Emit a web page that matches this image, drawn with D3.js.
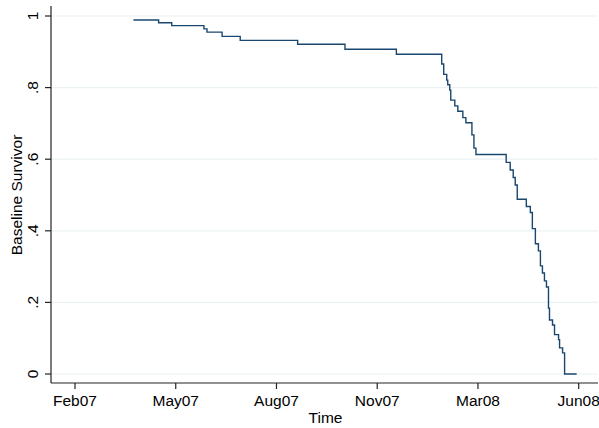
<!DOCTYPE html>
<html>
<head>
<meta charset="utf-8">
<script src="https://cdn.jsdelivr.net/npm/d3@7"></script>
<style>
  html,body{margin:0;padding:0;background:#fff;}
  svg{display:block;font-family:"Liberation Sans",Arial,sans-serif;}
</style>
</head>
<body>
<svg id="chart" width="599" height="428"></svg>
<script>
// step times (failure dates) and baseline survivor after each step
const dates=["2007-04-02","2007-04-27","2007-05-10","2007-06-11","2007-06-14","2007-06-29","2007-07-17","2007-09-12","2007-10-29","2007-12-19",
  "2008-02-02","2008-02-04","2008-02-07","2008-02-08","2008-02-10","2008-02-11","2008-02-15","2008-02-18","2008-02-23","2008-02-26",
  "2008-03-03","2008-03-05","2008-03-07","2008-04-06","2008-04-10","2008-04-13","2008-04-15","2008-04-17","2008-04-26","2008-04-30",
  "2008-05-02","2008-05-05","2008-05-08","2008-05-10","2008-05-12","2008-05-14","2008-05-16","2008-05-18","2008-05-19","2008-05-22",
  "2008-05-24","2008-05-28","2008-05-29","2008-06-01","2008-06-03","2008-06-15"];
const survival=[0.989,0.981,0.973,0.964,0.955,0.943,0.932,0.921,0.907,0.893,
  0.866,0.837,0.821,0.808,0.793,0.765,0.749,0.734,0.716,0.702,
  0.668,0.631,0.613,0.591,0.570,0.549,0.528,0.488,0.468,0.451,
  0.406,0.364,0.344,0.302,0.282,0.260,0.243,0.184,0.151,0.137,
  0.110,0.096,0.073,0.059,0,0];

const xTicks=["2007-02-03","2007-05-14","2007-08-22","2007-11-30","2008-03-09","2008-06-17"];
const yTicks=[0,0.2,0.4,0.6,0.8,1];
const yTickLabels=["0",".2",".4",".6",".8","1"];

const parse=d3.utcParse("%Y-%m-%d");
const data=dates.map((d,i)=>({t:parse(d),s:survival[i]}));

const svg=d3.select("#chart");
const fs=15.5;
const axisLeft=51, axisBottom=383, axisRight=598, axisTop=6;

const x=d3.scaleUtc().domain([parse(xTicks[0]),parse(xTicks[xTicks.length-1])]).range([75,578.7]);
const y=d3.scaleLinear().domain([0,1]).range([374,16]);

// gridlines
svg.append("g").selectAll("line").data(yTicks).enter().append("line")
  .attr("x1",axisLeft).attr("x2",axisRight)
  .attr("y1",d=>y(d)).attr("y2",d=>y(d))
  .attr("stroke","#eaf2f3").attr("stroke-width",1.2);

// survivor curve
const line=d3.line().x(d=>x(d.t)).y(d=>y(d.s)).curve(d3.curveStepAfter);
svg.append("path").datum(data)
  .attr("d",line)
  .attr("fill","none")
  .attr("stroke","#1a476f")
  .attr("stroke-width",1.4);

// y axis
const yAxis=svg.append("g");
yAxis.append("line").attr("x1",axisLeft).attr("x2",axisLeft).attr("y1",axisTop).attr("y2",axisBottom)
  .attr("stroke","#222").attr("stroke-width",1.2);
yAxis.selectAll(".yt").data(yTicks).enter().append("line")
  .attr("x1",axisLeft-6).attr("x2",axisLeft)
  .attr("y1",d=>y(d)).attr("y2",d=>y(d))
  .attr("stroke","#222").attr("stroke-width",1.2);
yAxis.selectAll(".yl").data(yTicks).enter().append("text")
  .attr("transform",d=>`translate(38,${y(d)}) rotate(-90)`)
  .attr("text-anchor","middle")
  .attr("font-size",fs).attr("fill","#000")
  .text((d,i)=>yTickLabels[i]);
svg.append("text")
  .attr("transform",`translate(21.5,${(y(0)+y(1))/2}) rotate(-90)`)
  .attr("text-anchor","middle")
  .attr("font-size",fs).attr("fill","#000")
  .text("Baseline Survivor");

// x axis
const xAxis=svg.append("g");
xAxis.append("line").attr("x1",axisLeft).attr("x2",axisRight).attr("y1",axisBottom).attr("y2",axisBottom)
  .attr("stroke","#222").attr("stroke-width",1.2);
const fmt=d3.utcFormat("%b%y");
xAxis.selectAll(".xt").data(xTicks).enter().append("line")
  .attr("x1",d=>x(parse(d))).attr("x2",d=>x(parse(d)))
  .attr("y1",axisBottom).attr("y2",axisBottom+6)
  .attr("stroke","#222").attr("stroke-width",1.2);
xAxis.selectAll(".xl").data(xTicks).enter().append("text")
  .attr("x",d=>x(parse(d))).attr("y",406)
  .attr("text-anchor","middle")
  .attr("font-size",fs).attr("fill","#000")
  .text(d=>fmt(parse(d)));
svg.append("text")
  .attr("x",(axisLeft+axisRight)/2+1).attr("y",423)
  .attr("text-anchor","middle")
  .attr("font-size",fs).attr("fill","#000")
  .text("Time");
</script>
</body>
</html>
